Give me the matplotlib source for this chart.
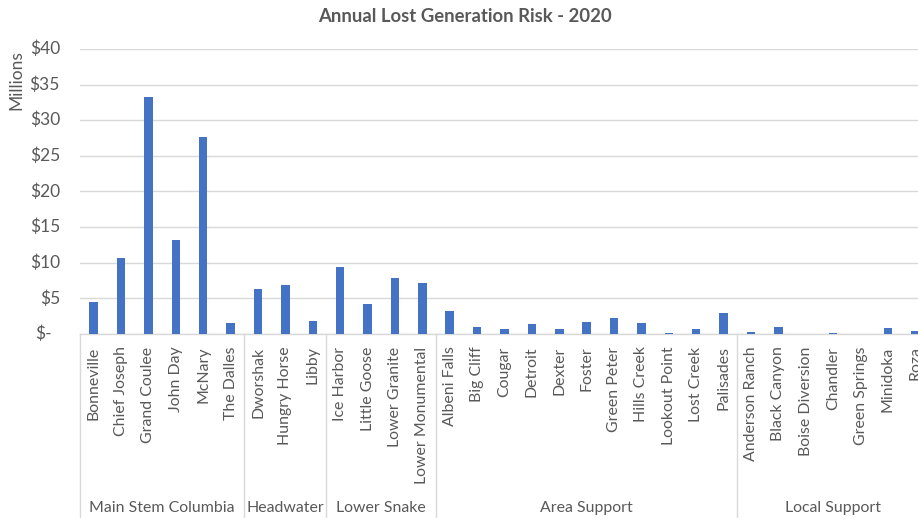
import matplotlib
matplotlib.use("Agg")
import matplotlib.pyplot as plt
import matplotlib.transforms as mtransforms

plt.rcParams['font.family'] = ['Lato', 'DejaVu Sans']

# Projects and their annual lost generation risk ($ millions)
groups = ["Main Stem Columbia", "Headwater", "Lower Snake", "Area Support", "Local Support"]
group_projects = [
    ["Bonneville", "Chief Joseph", "Grand Coulee", "John Day", "McNary", "The Dalles"],
    ["Dworshak", "Hungry Horse", "Libby"],
    ["Ice Harbor", "Little Goose", "Lower Granite", "Lower Monumental"],
    ["Albeni Falls", "Big Cliff", "Cougar", "Detroit", "Dexter", "Foster",
     "Green Peter", "Hills Creek", "Lookout Point", "Lost Creek", "Palisades"],
    ["Anderson Ranch", "Black Canyon", "Boise Diversion", "Chandler",
     "Green Springs", "Minidoka", "Roza"],
]
main_stem = [4.5, 10.6, 33.3, 13.2, 27.7, 1.5]
headwater = [6.3, 6.9, 1.8]
lower_snake = [9.4, 4.2, 7.9, 7.1]
area_support = [3.2, 1.0, 0.75, 1.35, 0.75, 1.7, 2.3, 1.6, 0.15, 0.7, 2.9]
local_support = [0.35, 0.95, 0.0, 0.15, 0.0, 0.85, 0.45]
y_ticks = [0, 5, 10, 15, 20, 25, 30, 35, 40]
y_tick_labels = ["$-", "$5", "$10", "$15", "$20", "$25", "$30", "$35", "$40"]

values = main_stem + headwater + lower_snake + area_support + local_support
projects = [p for g in group_projects for p in g]
n = len(projects)
x = list(range(n))

W, H = 918, 518
fig = plt.figure(figsize=(W / 100, H / 100), dpi=100)
left_px, right_px, top_px, base_px = 80, 929, 49, 334
ax = fig.add_axes([left_px / W, (H - base_px) / H,
                   (right_px - left_px) / W, (base_px - top_px) / H])

text_color = "#595959"
grid_color = "#D9D9D9"
bar_color = "#4472C4"

ax.bar(x, values, width=0.31, color=bar_color, zorder=3)
ax.set_xlim(-0.5, n - 0.5)
ax.set_ylim(0, 40)

ax.set_yticks(y_ticks)
ax.set_yticklabels([])
ax.tick_params(axis="y", length=0)
ax.grid(axis="y", color=grid_color, linewidth=1.0, zorder=0)
for s in ["top", "right", "left"]:
    ax.spines[s].set_visible(False)
ax.spines["bottom"].set_color(grid_color)
ax.spines["bottom"].set_linewidth(1.0)

# Y tick labels in accounting style
for v, lab in zip(y_ticks, y_tick_labels):
    off = -28 if lab == "$-" else -20
    ax.annotate(lab, xy=(0, v), xycoords=("axes fraction", "data"),
                xytext=(off * 0.72, 0), textcoords="offset points",
                ha="right", va="center", fontsize=12.5, color=text_color)

# Category labels
ax.set_xticks(x)
ax.set_xticklabels(projects, rotation=90, fontsize=11.4, color=text_color, va="top")
ax.tick_params(axis="x", length=0, pad=9)

# Group separators and group labels
trans = mtransforms.blended_transform_factory(ax.transData, ax.transAxes)
bounds = [-0.5]
for g in group_projects:
    bounds.append(bounds[-1] + len(g))
for b in bounds:
    ax.plot([b, b], [0, -0.7], transform=trans, color=grid_color,
            linewidth=1.0, clip_on=False, zorder=1)
label_y = -(508 - base_px) / (base_px - top_px)
for i, g in enumerate(groups):
    cx = (bounds[i] + bounds[i + 1]) / 2
    ax.text(cx, label_y, g, transform=trans, ha="center", va="center",
            fontsize=11.4, color=text_color)

fig.text(465 / W, 1 - 17 / H, "Annual Lost Generation Risk - 2020",
         ha="center", va="center", fontsize=13.3, fontweight="bold", color=text_color)
fig.text(16 / W, 1 - 80 / H, "Millions", rotation=90, ha="center", va="center",
         fontsize=12.5, color=text_color)

fig.savefig("out.png", dpi=100)
